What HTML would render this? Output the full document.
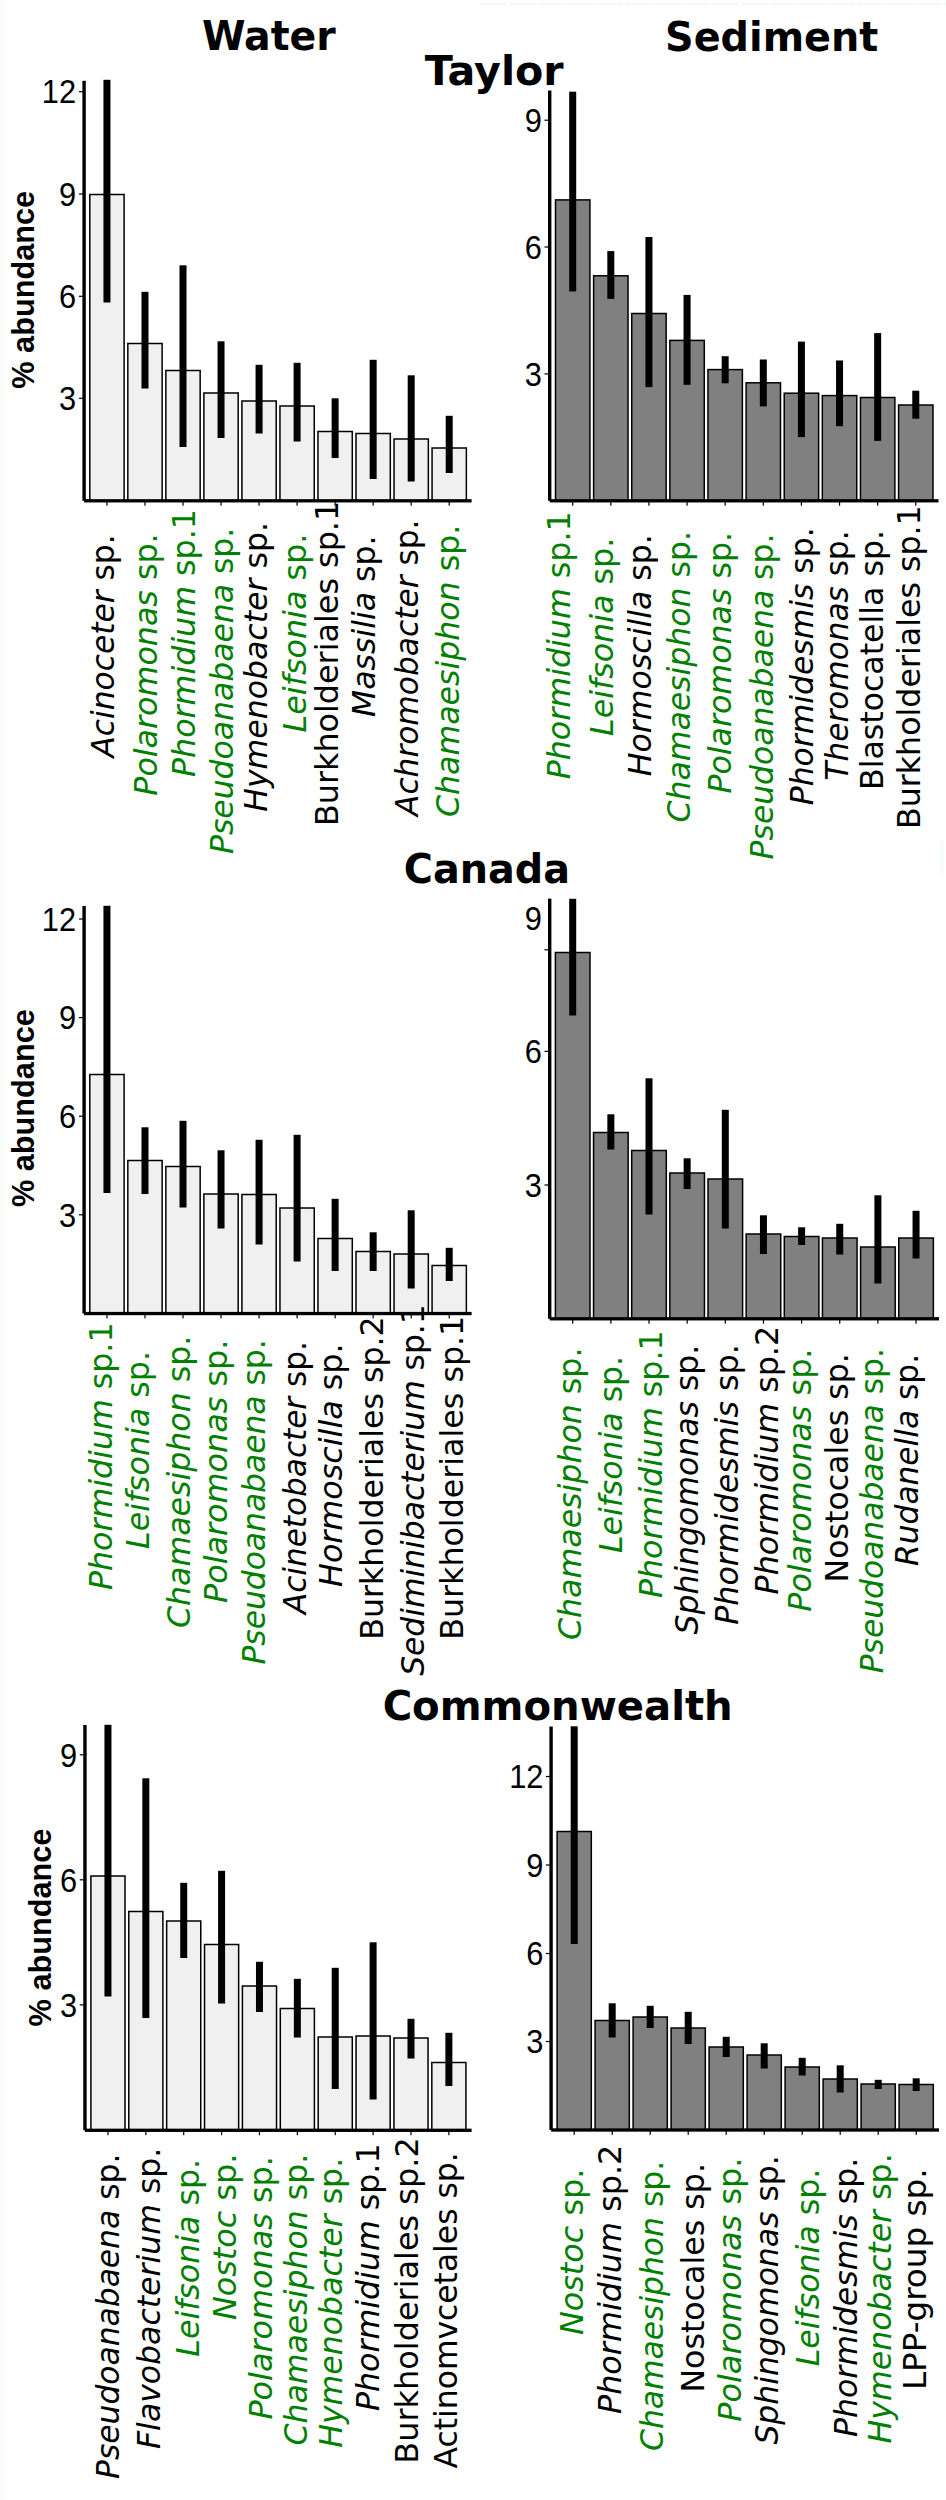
<!DOCTYPE html>
<html lang="en">
<head>
<meta charset="utf-8">
<title>Abundance of bacterial taxa in water and sediment</title>
<style>
html,body{margin:0;padding:0;background:#fff;}
svg{display:block;}
.t{font-family:"DejaVu Sans","Liberation Sans",sans-serif;font-weight:bold;font-size:41.2px;fill:#000;}
.l{font-family:"DejaVu Sans","Liberation Sans",sans-serif;font-size:31.5px;}
.l .i{font-style:italic;}
.n{font-family:"Liberation Sans",Arial,sans-serif;font-size:30.8px;fill:#000;text-anchor:end;}
.y{font-family:"Liberation Sans",Arial,sans-serif;font-weight:bold;font-size:30.7px;fill:#000;text-anchor:middle;}
.b{stroke:#000;stroke-width:1.5;}
.e{fill:#000;}
</style>
</head>
<body>
<svg width="946" height="2500" viewBox="0 0 946 2500">
<rect width="946" height="2500" fill="#fff"/>
<rect x="1.5" y="0" width="1.6" height="2500" fill="#f7fcf7"/>
<line x1="480" y1="4" x2="946" y2="4" stroke="#f4fbf5" stroke-width="3" stroke-dasharray="27 2"/>
<rect x="940.3" y="840" width="3" height="34" fill="#f2fdf2"/>
<text class="t" x="201.94" y="50.4" textLength="133.87" lengthAdjust="spacingAndGlyphs">Water</text>
<text class="t" x="665.01" y="50.5" textLength="213.32" lengthAdjust="spacingAndGlyphs">Sediment</text>
<text class="t" x="424.8" y="84.7" textLength="138.89" lengthAdjust="spacingAndGlyphs">Taylor</text>
<text class="t" x="403.87" y="883" textLength="166.12" lengthAdjust="spacingAndGlyphs">Canada</text>
<text class="t" x="382.65" y="1720.1" textLength="350.07" lengthAdjust="spacingAndGlyphs">Commonwealth</text>
<g>
<rect class="b" x="89.8" y="194.5" width="34.3" height="306.3" fill="#f0f0f0"/>
<rect class="b" x="127.83" y="343.5" width="34.3" height="157.3" fill="#f0f0f0"/>
<rect class="b" x="165.86" y="370.5" width="34.3" height="130.3" fill="#f0f0f0"/>
<rect class="b" x="203.89" y="393" width="34.3" height="107.8" fill="#f0f0f0"/>
<rect class="b" x="241.92" y="401" width="34.3" height="99.8" fill="#f0f0f0"/>
<rect class="b" x="279.95" y="406" width="34.3" height="94.8" fill="#f0f0f0"/>
<rect class="b" x="317.98" y="431.5" width="34.3" height="69.3" fill="#f0f0f0"/>
<rect class="b" x="356.01" y="433.5" width="34.3" height="67.3" fill="#f0f0f0"/>
<rect class="b" x="394.04" y="439" width="34.3" height="61.8" fill="#f0f0f0"/>
<rect class="b" x="432.07" y="448" width="34.3" height="52.8" fill="#f0f0f0"/>
<rect class="e" x="103.45" y="79.8" width="7" height="222.7"/>
<rect class="e" x="141.48" y="291.8" width="7" height="96.7"/>
<rect class="e" x="179.51" y="265.3" width="7" height="181.7"/>
<rect class="e" x="217.54" y="341.3" width="7" height="96.7"/>
<rect class="e" x="255.57" y="364.8" width="7" height="68.7"/>
<rect class="e" x="293.6" y="362.8" width="7" height="78.7"/>
<rect class="e" x="331.63" y="398.3" width="7" height="59.7"/>
<rect class="e" x="369.66" y="359.8" width="7" height="119.2"/>
<rect class="e" x="407.69" y="375.3" width="7" height="106.2"/>
<rect class="e" x="445.72" y="415.8" width="7" height="57.2"/>
<rect x="106.35" y="500.8" width="1.2" height="4.9" fill="#000"/>
<rect x="144.38" y="500.8" width="1.2" height="4.9" fill="#000"/>
<rect x="182.41" y="500.8" width="1.2" height="4.9" fill="#000"/>
<rect x="220.44" y="500.8" width="1.2" height="4.9" fill="#000"/>
<rect x="258.47" y="500.8" width="1.2" height="4.9" fill="#000"/>
<rect x="296.5" y="500.8" width="1.2" height="4.9" fill="#000"/>
<rect x="334.53" y="500.8" width="1.2" height="4.9" fill="#000"/>
<rect x="372.56" y="500.8" width="1.2" height="4.9" fill="#000"/>
<rect x="410.59" y="500.8" width="1.2" height="4.9" fill="#000"/>
<rect x="448.62" y="500.8" width="1.2" height="4.9" fill="#000"/>
<rect x="82.4" y="80.8" width="3.4" height="420" fill="#000"/>
<rect x="84.1" y="499.15" width="387.5" height="3.3" fill="#000"/>
<rect x="78.9" y="91.1" width="4" height="1.2" fill="#000"/>
<text class="n" transform="translate(76.1 103.48) scale(1 1.09)">12</text>
<rect x="78.9" y="193.4" width="4" height="1.2" fill="#000"/>
<text class="n" transform="translate(76.1 205.78) scale(1 1.09)">9</text>
<rect x="78.9" y="295.7" width="4" height="1.2" fill="#000"/>
<text class="n" transform="translate(76.1 308.08) scale(1 1.09)">6</text>
<rect x="78.9" y="397.7" width="4" height="1.2" fill="#000"/>
<text class="n" transform="translate(76.1 410.08) scale(1 1.09)">3</text>
<text class="y" transform="translate(34.2 289.8) rotate(-90)">% abundance</text>
<text class="l" fill="#000" transform="translate(113.8 757.61) rotate(-90)" textLength="223.28" lengthAdjust="spacingAndGlyphs"><tspan class="i">Acinoceter</tspan> sp.</text>
<text class="l" fill="#007f00" transform="translate(156.5 795.71) rotate(-90)" textLength="262.36" lengthAdjust="spacingAndGlyphs"><tspan class="i">Polaromonas</tspan> sp.</text>
<text class="l" fill="#007f00" transform="translate(195.2 777.01) rotate(-90)" textLength="267.92" lengthAdjust="spacingAndGlyphs"><tspan class="i">Phormidium</tspan> sp.1</text>
<text class="l" fill="#007f00" transform="translate(232.6 854) rotate(-90)" textLength="326.28" lengthAdjust="spacingAndGlyphs"><tspan class="i">Pseudoanabaena</tspan> sp.</text>
<text class="l" fill="#000" transform="translate(267.1 811.8) rotate(-90)" textLength="289.78" lengthAdjust="spacingAndGlyphs"><tspan class="i">Hymenobacter</tspan> sp.</text>
<text class="l" fill="#007f00" transform="translate(305.5 732.41) rotate(-90)" textLength="198.76" lengthAdjust="spacingAndGlyphs"><tspan class="i">Leifsonia</tspan> sp.</text>
<text class="l" fill="#000" transform="translate(337.7 826.03) rotate(-90)" textLength="325.21" lengthAdjust="spacingAndGlyphs">Burkholderiales sp.1</text>
<text class="l" fill="#000" transform="translate(375.4 717) rotate(-90)" textLength="181.52" lengthAdjust="spacingAndGlyphs"><tspan class="i">Massilia</tspan> sp.</text>
<text class="l" fill="#000" transform="translate(417.6 816.01) rotate(-90)" textLength="296.54" lengthAdjust="spacingAndGlyphs"><tspan class="i">Achromobacter</tspan> sp.</text>
<text class="l" fill="#007f00" transform="translate(459.3 817) rotate(-90)" textLength="292.25" lengthAdjust="spacingAndGlyphs"><tspan class="i">Chamaesiphon</tspan> sp.</text>
</g>
<g>
<rect class="b" x="555.5" y="199.9" width="34.4" height="300.9" fill="#808080"/>
<rect class="b" x="593.62" y="275.8" width="34.4" height="225" fill="#808080"/>
<rect class="b" x="631.74" y="313.5" width="34.4" height="187.3" fill="#808080"/>
<rect class="b" x="669.86" y="340.4" width="34.4" height="160.4" fill="#808080"/>
<rect class="b" x="707.98" y="369.6" width="34.4" height="131.2" fill="#808080"/>
<rect class="b" x="746.1" y="382.8" width="34.4" height="118" fill="#808080"/>
<rect class="b" x="784.22" y="393.2" width="34.4" height="107.6" fill="#808080"/>
<rect class="b" x="822.34" y="395.6" width="34.4" height="105.2" fill="#808080"/>
<rect class="b" x="860.46" y="397.5" width="34.4" height="103.3" fill="#808080"/>
<rect class="b" x="898.58" y="405" width="34.4" height="95.8" fill="#808080"/>
<rect class="e" x="569.2" y="91.7" width="7" height="199.7"/>
<rect class="e" x="607.32" y="251.1" width="7" height="47.8"/>
<rect class="e" x="645.44" y="237" width="7" height="150.1"/>
<rect class="e" x="683.56" y="294.9" width="7" height="89.9"/>
<rect class="e" x="721.68" y="356.2" width="7" height="27.1"/>
<rect class="e" x="759.8" y="359.5" width="7" height="46.9"/>
<rect class="e" x="797.92" y="341.6" width="7" height="95.5"/>
<rect class="e" x="836.04" y="360.5" width="7" height="65.7"/>
<rect class="e" x="874.16" y="333.1" width="7" height="107.8"/>
<rect class="e" x="912.28" y="390.7" width="7" height="28"/>
<rect x="572.1" y="500.8" width="1.2" height="4.9" fill="#000"/>
<rect x="610.22" y="500.8" width="1.2" height="4.9" fill="#000"/>
<rect x="648.34" y="500.8" width="1.2" height="4.9" fill="#000"/>
<rect x="686.46" y="500.8" width="1.2" height="4.9" fill="#000"/>
<rect x="724.58" y="500.8" width="1.2" height="4.9" fill="#000"/>
<rect x="762.7" y="500.8" width="1.2" height="4.9" fill="#000"/>
<rect x="800.82" y="500.8" width="1.2" height="4.9" fill="#000"/>
<rect x="838.94" y="500.8" width="1.2" height="4.9" fill="#000"/>
<rect x="877.06" y="500.8" width="1.2" height="4.9" fill="#000"/>
<rect x="915.18" y="500.8" width="1.2" height="4.9" fill="#000"/>
<rect x="548" y="90.5" width="3.4" height="410.3" fill="#000"/>
<rect x="549.7" y="499.15" width="388.8" height="3.3" fill="#000"/>
<rect x="544.5" y="119.6" width="4" height="1.2" fill="#000"/>
<text class="n" transform="translate(541.9 131.98) scale(1 1.09)">9</text>
<rect x="544.5" y="246.4" width="4" height="1.2" fill="#000"/>
<text class="n" transform="translate(541.9 258.78) scale(1 1.09)">6</text>
<rect x="544.5" y="373.3" width="4" height="1.2" fill="#000"/>
<text class="n" transform="translate(541.9 385.68) scale(1 1.09)">3</text>
<text class="l" fill="#007f00" transform="translate(569.5 779.31) rotate(-90)" textLength="268.02" lengthAdjust="spacingAndGlyphs"><tspan class="i">Phormidium</tspan> sp.1</text>
<text class="l" fill="#007f00" transform="translate(613.3 736.01) rotate(-90)" textLength="198.35" lengthAdjust="spacingAndGlyphs"><tspan class="i">Leifsonia</tspan> sp.</text>
<text class="l" fill="#000" transform="translate(651 776.2) rotate(-90)" textLength="242.1" lengthAdjust="spacingAndGlyphs"><tspan class="i">Hormoscilla</tspan> sp.</text>
<text class="l" fill="#007f00" transform="translate(689.8 822.6) rotate(-90)" textLength="291.64" lengthAdjust="spacingAndGlyphs"><tspan class="i">Chamaesiphon</tspan> sp.</text>
<text class="l" fill="#007f00" transform="translate(730.9 793.6) rotate(-90)" textLength="261.74" lengthAdjust="spacingAndGlyphs"><tspan class="i">Polaromonas</tspan> sp.</text>
<text class="l" fill="#007f00" transform="translate(773.3 859.4) rotate(-90)" textLength="325.77" lengthAdjust="spacingAndGlyphs"><tspan class="i">Pseudoanabaena</tspan> sp.</text>
<text class="l" fill="#000" transform="translate(812.6 805.3) rotate(-90)" textLength="277.99" lengthAdjust="spacingAndGlyphs"><tspan class="i">Phormidesmis</tspan> sp.</text>
<text class="l" fill="#000" transform="translate(847.7 780.49) rotate(-90)" textLength="250.05" lengthAdjust="spacingAndGlyphs"><tspan class="i">Theromonas</tspan> sp.</text>
<text class="l" fill="#000" transform="translate(883 790.01) rotate(-90)" textLength="260.01" lengthAdjust="spacingAndGlyphs">Blastocatella sp.</text>
<text class="l" fill="#000" transform="translate(919.8 829.02) rotate(-90)" textLength="323.79" lengthAdjust="spacingAndGlyphs">Burkholderiales sp.1</text>
</g>
<g>
<rect class="b" x="89.8" y="1074.5" width="34.3" height="239.05" fill="#f0f0f0"/>
<rect class="b" x="127.83" y="1160.5" width="34.3" height="153.05" fill="#f0f0f0"/>
<rect class="b" x="165.86" y="1166.5" width="34.3" height="147.05" fill="#f0f0f0"/>
<rect class="b" x="203.89" y="1194" width="34.3" height="119.55" fill="#f0f0f0"/>
<rect class="b" x="241.92" y="1194.5" width="34.3" height="119.05" fill="#f0f0f0"/>
<rect class="b" x="279.95" y="1208" width="34.3" height="105.55" fill="#f0f0f0"/>
<rect class="b" x="317.98" y="1238.5" width="34.3" height="75.05" fill="#f0f0f0"/>
<rect class="b" x="356.01" y="1251.5" width="34.3" height="62.05" fill="#f0f0f0"/>
<rect class="b" x="394.04" y="1254" width="34.3" height="59.55" fill="#f0f0f0"/>
<rect class="b" x="432.07" y="1265.5" width="34.3" height="48.05" fill="#f0f0f0"/>
<rect class="e" x="103.45" y="905.8" width="7" height="287.2"/>
<rect class="e" x="141.48" y="1127.3" width="7" height="66.7"/>
<rect class="e" x="179.51" y="1120.8" width="7" height="86.7"/>
<rect class="e" x="217.54" y="1150.3" width="7" height="78.2"/>
<rect class="e" x="255.57" y="1139.8" width="7" height="104.7"/>
<rect class="e" x="293.6" y="1134.8" width="7" height="126.7"/>
<rect class="e" x="331.63" y="1198.8" width="7" height="72.2"/>
<rect class="e" x="369.66" y="1232.3" width="7" height="38.7"/>
<rect class="e" x="407.69" y="1210.3" width="7" height="78.2"/>
<rect class="e" x="445.72" y="1247.8" width="7" height="33.2"/>
<rect x="106.35" y="1313.55" width="1.2" height="4.9" fill="#000"/>
<rect x="144.38" y="1313.55" width="1.2" height="4.9" fill="#000"/>
<rect x="182.41" y="1313.55" width="1.2" height="4.9" fill="#000"/>
<rect x="220.44" y="1313.55" width="1.2" height="4.9" fill="#000"/>
<rect x="258.47" y="1313.55" width="1.2" height="4.9" fill="#000"/>
<rect x="296.5" y="1313.55" width="1.2" height="4.9" fill="#000"/>
<rect x="334.53" y="1313.55" width="1.2" height="4.9" fill="#000"/>
<rect x="372.56" y="1313.55" width="1.2" height="4.9" fill="#000"/>
<rect x="410.59" y="1313.55" width="1.2" height="4.9" fill="#000"/>
<rect x="448.62" y="1313.55" width="1.2" height="4.9" fill="#000"/>
<rect x="82.4" y="906" width="3.4" height="407.55" fill="#000"/>
<rect x="84.1" y="1311.9" width="387.5" height="3.3" fill="#000"/>
<rect x="78.9" y="918.4" width="4" height="1.2" fill="#000"/>
<text class="n" transform="translate(76.1 930.78) scale(1 1.09)">12</text>
<rect x="78.9" y="1017" width="4" height="1.2" fill="#000"/>
<text class="n" transform="translate(76.1 1029.38) scale(1 1.09)">9</text>
<rect x="78.9" y="1115.6" width="4" height="1.2" fill="#000"/>
<text class="n" transform="translate(76.1 1127.98) scale(1 1.09)">6</text>
<rect x="78.9" y="1214.2" width="4" height="1.2" fill="#000"/>
<text class="n" transform="translate(76.1 1226.58) scale(1 1.09)">3</text>
<text class="y" transform="translate(34.2 1108.1) rotate(-90)">% abundance</text>
<text class="l" fill="#007f00" transform="translate(112 1590) rotate(-90)" textLength="267.51" lengthAdjust="spacingAndGlyphs"><tspan class="i">Phormidium</tspan> sp.1</text>
<text class="l" fill="#007f00" transform="translate(148.7 1549.01) rotate(-90)" textLength="198.04" lengthAdjust="spacingAndGlyphs"><tspan class="i">Leifsonia</tspan> sp.</text>
<text class="l" fill="#007f00" transform="translate(189.9 1628) rotate(-90)" textLength="292.35" lengthAdjust="spacingAndGlyphs"><tspan class="i">Chamaesiphon</tspan> sp.</text>
<text class="l" fill="#007f00" transform="translate(226.9 1603.01) rotate(-90)" textLength="263.37" lengthAdjust="spacingAndGlyphs"><tspan class="i">Polaromonas</tspan> sp.</text>
<text class="l" fill="#007f00" transform="translate(265.4 1664.59) rotate(-90)" textLength="325.26" lengthAdjust="spacingAndGlyphs"><tspan class="i">Pseudoanabaena</tspan> sp.</text>
<text class="l" fill="#000" transform="translate(305.5 1614.02) rotate(-90)" textLength="272.91" lengthAdjust="spacingAndGlyphs"><tspan class="i">Acinetobacter</tspan> sp.</text>
<text class="l" fill="#000" transform="translate(342.1 1587.01) rotate(-90)" textLength="243.63" lengthAdjust="spacingAndGlyphs"><tspan class="i">Hormoscilla</tspan> sp.</text>
<text class="l" fill="#000" transform="translate(383.2 1639.81) rotate(-90)" textLength="323.48" lengthAdjust="spacingAndGlyphs">Burkholderiales sp.2</text>
<text class="l" fill="#000" transform="translate(423.5 1675.8) rotate(-90)" textLength="371.56" lengthAdjust="spacingAndGlyphs"><tspan class="i">Sediminibacterium</tspan> sp.1</text>
<text class="l" fill="#000" transform="translate(462.7 1639.82) rotate(-90)" textLength="324.09" lengthAdjust="spacingAndGlyphs">Burkholderiales sp.1</text>
</g>
<g>
<rect class="b" x="555.4" y="952.5" width="34.6" height="366.3" fill="#808080"/>
<rect class="b" x="593.55" y="1132.5" width="34.6" height="186.3" fill="#808080"/>
<rect class="b" x="631.7" y="1150.5" width="34.6" height="168.3" fill="#808080"/>
<rect class="b" x="669.85" y="1173" width="34.6" height="145.8" fill="#808080"/>
<rect class="b" x="708" y="1179" width="34.6" height="139.8" fill="#808080"/>
<rect class="b" x="746.15" y="1234" width="34.6" height="84.8" fill="#808080"/>
<rect class="b" x="784.3" y="1236.5" width="34.6" height="82.3" fill="#808080"/>
<rect class="b" x="822.45" y="1238" width="34.6" height="80.8" fill="#808080"/>
<rect class="b" x="860.6" y="1247" width="34.6" height="71.8" fill="#808080"/>
<rect class="b" x="898.75" y="1238" width="34.6" height="80.8" fill="#808080"/>
<rect class="e" x="569.2" y="898.8" width="7" height="116.7"/>
<rect class="e" x="607.35" y="1114.3" width="7" height="35.2"/>
<rect class="e" x="645.5" y="1078.3" width="7" height="136.2"/>
<rect class="e" x="683.65" y="1158.3" width="7" height="30.7"/>
<rect class="e" x="721.8" y="1109.8" width="7" height="118.7"/>
<rect class="e" x="759.95" y="1215.3" width="7" height="38.7"/>
<rect class="e" x="798.1" y="1227.3" width="7" height="17.7"/>
<rect class="e" x="836.25" y="1223.8" width="7" height="30.7"/>
<rect class="e" x="874.4" y="1195.3" width="7" height="88.2"/>
<rect class="e" x="912.55" y="1210.8" width="7" height="47.7"/>
<rect x="572.1" y="1318.8" width="1.2" height="4.9" fill="#000"/>
<rect x="610.25" y="1318.8" width="1.2" height="4.9" fill="#000"/>
<rect x="648.4" y="1318.8" width="1.2" height="4.9" fill="#000"/>
<rect x="686.55" y="1318.8" width="1.2" height="4.9" fill="#000"/>
<rect x="724.7" y="1318.8" width="1.2" height="4.9" fill="#000"/>
<rect x="762.85" y="1318.8" width="1.2" height="4.9" fill="#000"/>
<rect x="801" y="1318.8" width="1.2" height="4.9" fill="#000"/>
<rect x="839.15" y="1318.8" width="1.2" height="4.9" fill="#000"/>
<rect x="877.3" y="1318.8" width="1.2" height="4.9" fill="#000"/>
<rect x="915.45" y="1318.8" width="1.2" height="4.9" fill="#000"/>
<rect x="548" y="898.6" width="3.4" height="420.2" fill="#000"/>
<rect x="549.7" y="1317.15" width="389.3" height="3.3" fill="#000"/>
<text class="n" transform="translate(541.9 929.78) scale(1 1.09)">9</text>
<rect x="544.5" y="949.2" width="4" height="1.2" fill="#000"/>
<rect x="544.5" y="1050.8" width="4" height="1.2" fill="#000"/>
<text class="n" transform="translate(541.9 1063.18) scale(1 1.09)">6</text>
<rect x="544.5" y="1184.4" width="4" height="1.2" fill="#000"/>
<text class="n" transform="translate(541.9 1196.78) scale(1 1.09)">3</text>
<text class="l" fill="#007f00" transform="translate(580.6 1640) rotate(-90)" textLength="292.45" lengthAdjust="spacingAndGlyphs"><tspan class="i">Chamaesiphon</tspan> sp.</text>
<text class="l" fill="#007f00" transform="translate(622.1 1553) rotate(-90)" textLength="197.13" lengthAdjust="spacingAndGlyphs"><tspan class="i">Leifsonia</tspan> sp.</text>
<text class="l" fill="#007f00" transform="translate(661.6 1598) rotate(-90)" textLength="267.61" lengthAdjust="spacingAndGlyphs"><tspan class="i">Phormidium</tspan> sp.1</text>
<text class="l" fill="#000" transform="translate(697.6 1634.6) rotate(-90)" textLength="289.91" lengthAdjust="spacingAndGlyphs"><tspan class="i">Sphingomonas</tspan> sp.</text>
<text class="l" fill="#000" transform="translate(737.6 1624.81) rotate(-90)" textLength="280.53" lengthAdjust="spacingAndGlyphs"><tspan class="i">Phormidesmis</tspan> sp.</text>
<text class="l" fill="#000" transform="translate(777.7 1594.41) rotate(-90)" textLength="268.53" lengthAdjust="spacingAndGlyphs"><tspan class="i">Phormidium</tspan> sp.2</text>
<text class="l" fill="#007f00" transform="translate(810.8 1611.81) rotate(-90)" textLength="263.27" lengthAdjust="spacingAndGlyphs"><tspan class="i">Polaromonas</tspan> sp.</text>
<text class="l" fill="#000" transform="translate(848.1 1582.51) rotate(-90)" textLength="229.39" lengthAdjust="spacingAndGlyphs">Nostocales sp.</text>
<text class="l" fill="#007f00" transform="translate(883.2 1673.29) rotate(-90)" textLength="325.26" lengthAdjust="spacingAndGlyphs"><tspan class="i">Pseudoanabaena</tspan> sp.</text>
<text class="l" fill="#000" transform="translate(918 1565.99) rotate(-90)" textLength="212.12" lengthAdjust="spacingAndGlyphs"><tspan class="i">Rudanella</tspan> sp.</text>
</g>
<g>
<rect class="b" x="90.9" y="1876" width="34.1" height="254.3" fill="#f0f0f0"/>
<rect class="b" x="128.78" y="1911.5" width="34.1" height="218.8" fill="#f0f0f0"/>
<rect class="b" x="166.66" y="1921" width="34.1" height="209.3" fill="#f0f0f0"/>
<rect class="b" x="204.54" y="1944.5" width="34.1" height="185.8" fill="#f0f0f0"/>
<rect class="b" x="242.42" y="1986" width="34.1" height="144.3" fill="#f0f0f0"/>
<rect class="b" x="280.3" y="2008.5" width="34.1" height="121.8" fill="#f0f0f0"/>
<rect class="b" x="318.18" y="2037" width="34.1" height="93.3" fill="#f0f0f0"/>
<rect class="b" x="356.06" y="2036" width="34.1" height="94.3" fill="#f0f0f0"/>
<rect class="b" x="393.94" y="2038" width="34.1" height="92.3" fill="#f0f0f0"/>
<rect class="b" x="431.82" y="2062.5" width="34.1" height="67.8" fill="#f0f0f0"/>
<rect class="e" x="104.45" y="1724.8" width="7" height="271.7"/>
<rect class="e" x="142.33" y="1778.3" width="7" height="239.7"/>
<rect class="e" x="180.21" y="1882.8" width="7" height="75.2"/>
<rect class="e" x="218.09" y="1870.8" width="7" height="132.7"/>
<rect class="e" x="255.97" y="1961.8" width="7" height="50.2"/>
<rect class="e" x="293.85" y="1978.8" width="7" height="58.7"/>
<rect class="e" x="331.73" y="1967.8" width="7" height="121.2"/>
<rect class="e" x="369.61" y="1942.3" width="7" height="157.2"/>
<rect class="e" x="407.49" y="2018.8" width="7" height="39.7"/>
<rect class="e" x="445.37" y="2032.8" width="7" height="53.2"/>
<rect x="107.35" y="2130.3" width="1.2" height="4.9" fill="#000"/>
<rect x="145.23" y="2130.3" width="1.2" height="4.9" fill="#000"/>
<rect x="183.11" y="2130.3" width="1.2" height="4.9" fill="#000"/>
<rect x="220.99" y="2130.3" width="1.2" height="4.9" fill="#000"/>
<rect x="258.87" y="2130.3" width="1.2" height="4.9" fill="#000"/>
<rect x="296.75" y="2130.3" width="1.2" height="4.9" fill="#000"/>
<rect x="334.63" y="2130.3" width="1.2" height="4.9" fill="#000"/>
<rect x="372.51" y="2130.3" width="1.2" height="4.9" fill="#000"/>
<rect x="410.39" y="2130.3" width="1.2" height="4.9" fill="#000"/>
<rect x="448.27" y="2130.3" width="1.2" height="4.9" fill="#000"/>
<rect x="83.25" y="1725" width="3.4" height="405.3" fill="#000"/>
<rect x="84.95" y="2128.65" width="386.65" height="3.3" fill="#000"/>
<rect x="79.75" y="1754.2" width="4" height="1.2" fill="#000"/>
<text class="n" transform="translate(77.2 1766.58) scale(1 1.09)">9</text>
<rect x="79.75" y="1879.2" width="4" height="1.2" fill="#000"/>
<text class="n" transform="translate(77.2 1891.58) scale(1 1.09)">6</text>
<rect x="79.75" y="2004.3" width="4" height="1.2" fill="#000"/>
<text class="n" transform="translate(77.2 2016.68) scale(1 1.09)">3</text>
<text class="y" transform="translate(51 1927.5) rotate(-90)">% abundance</text>
<text class="l" fill="#000" transform="translate(118.7 2479) rotate(-90)" textLength="325.36" lengthAdjust="spacingAndGlyphs"><tspan class="i">Pseudoanabaena</tspan> sp.</text>
<text class="l" fill="#000" transform="translate(159.9 2449) rotate(-90)" textLength="301.34" lengthAdjust="spacingAndGlyphs"><tspan class="i">Flavobacterium</tspan> sp.</text>
<text class="l" fill="#007f00" transform="translate(198.8 2356.7) rotate(-90)" textLength="197.74" lengthAdjust="spacingAndGlyphs"><tspan class="i">Leifsonia</tspan> sp.</text>
<text class="l" fill="#007f00" transform="translate(236 2320.01) rotate(-90)" textLength="166.39" lengthAdjust="spacingAndGlyphs"><tspan class="i">Nostoc</tspan> sp.</text>
<text class="l" fill="#007f00" transform="translate(272 2419.61) rotate(-90)" textLength="263.48" lengthAdjust="spacingAndGlyphs"><tspan class="i">Polaromonas</tspan> sp.</text>
<text class="l" fill="#007f00" transform="translate(307.1 2445.6) rotate(-90)" textLength="291.84" lengthAdjust="spacingAndGlyphs"><tspan class="i">Chamaesiphon</tspan> sp.</text>
<text class="l" fill="#007f00" transform="translate(341.5 2447.8) rotate(-90)" textLength="289.98" lengthAdjust="spacingAndGlyphs"><tspan class="i">Hymenobacter</tspan> sp.</text>
<text class="l" fill="#000" transform="translate(378.8 2411) rotate(-90)" textLength="267.51" lengthAdjust="spacingAndGlyphs"><tspan class="i">Phormidium</tspan> sp.1</text>
<text class="l" fill="#000" transform="translate(417.6 2463.64) rotate(-90)" textLength="326.34" lengthAdjust="spacingAndGlyphs">Burkholderiales sp.2</text>
<text class="l" fill="#000" transform="translate(456.5 2468.4) rotate(-90)" textLength="316.1" lengthAdjust="spacingAndGlyphs">Actinomvcetales sp.</text>
</g>
<g>
<rect class="b" x="557.1" y="1831.5" width="34.2" height="298.5" fill="#808080"/>
<rect class="b" x="595.1" y="2020.5" width="34.2" height="109.5" fill="#808080"/>
<rect class="b" x="633.1" y="2017" width="34.2" height="113" fill="#808080"/>
<rect class="b" x="671.1" y="2028" width="34.2" height="102" fill="#808080"/>
<rect class="b" x="709.1" y="2047" width="34.2" height="83" fill="#808080"/>
<rect class="b" x="747.1" y="2055" width="34.2" height="75" fill="#808080"/>
<rect class="b" x="785.1" y="2067" width="34.2" height="63" fill="#808080"/>
<rect class="b" x="823.1" y="2079" width="34.2" height="51" fill="#808080"/>
<rect class="b" x="861.1" y="2084" width="34.2" height="46" fill="#808080"/>
<rect class="b" x="899.1" y="2084.5" width="34.2" height="45.5" fill="#808080"/>
<rect class="e" x="570.7" y="1726.3" width="7" height="217.7"/>
<rect class="e" x="608.7" y="2003.3" width="7" height="34.2"/>
<rect class="e" x="646.7" y="2005.8" width="7" height="22.2"/>
<rect class="e" x="684.7" y="2011.8" width="7" height="32.2"/>
<rect class="e" x="722.7" y="2036.8" width="7" height="20.2"/>
<rect class="e" x="760.7" y="2043.3" width="7" height="25.2"/>
<rect class="e" x="798.7" y="2057.8" width="7" height="17.7"/>
<rect class="e" x="836.7" y="2065.3" width="7" height="27.2"/>
<rect class="e" x="874.7" y="2079.8" width="7" height="9.2"/>
<rect class="e" x="912.7" y="2078.3" width="7" height="12.7"/>
<rect x="573.6" y="2130" width="1.2" height="4.9" fill="#000"/>
<rect x="611.6" y="2130" width="1.2" height="4.9" fill="#000"/>
<rect x="649.6" y="2130" width="1.2" height="4.9" fill="#000"/>
<rect x="687.6" y="2130" width="1.2" height="4.9" fill="#000"/>
<rect x="725.6" y="2130" width="1.2" height="4.9" fill="#000"/>
<rect x="763.6" y="2130" width="1.2" height="4.9" fill="#000"/>
<rect x="801.6" y="2130" width="1.2" height="4.9" fill="#000"/>
<rect x="839.6" y="2130" width="1.2" height="4.9" fill="#000"/>
<rect x="877.6" y="2130" width="1.2" height="4.9" fill="#000"/>
<rect x="915.6" y="2130" width="1.2" height="4.9" fill="#000"/>
<rect x="549.4" y="1726.5" width="3.4" height="403.5" fill="#000"/>
<rect x="551.1" y="2128.35" width="387.9" height="3.3" fill="#000"/>
<rect x="545.9" y="1775.9" width="4" height="1.2" fill="#000"/>
<text class="n" transform="translate(543.4 1788.28) scale(1 1.09)">12</text>
<rect x="545.9" y="1864.4" width="4" height="1.2" fill="#000"/>
<text class="n" transform="translate(543.4 1876.78) scale(1 1.09)">9</text>
<rect x="545.9" y="1952.9" width="4" height="1.2" fill="#000"/>
<text class="n" transform="translate(543.4 1965.28) scale(1 1.09)">6</text>
<rect x="545.9" y="2040.9" width="4" height="1.2" fill="#000"/>
<text class="n" transform="translate(543.4 2053.28) scale(1 1.09)">3</text>
<text class="l" fill="#007f00" transform="translate(583.3 2335.01) rotate(-90)" textLength="166.39" lengthAdjust="spacingAndGlyphs"><tspan class="i">Nostoc</tspan> sp.</text>
<text class="l" fill="#000" transform="translate(621 2414.01) rotate(-90)" textLength="269.34" lengthAdjust="spacingAndGlyphs"><tspan class="i">Phormidium</tspan> sp.2</text>
<text class="l" fill="#007f00" transform="translate(662.8 2451) rotate(-90)" textLength="290.12" lengthAdjust="spacingAndGlyphs"><tspan class="i">Chamaesiphon</tspan> sp.</text>
<text class="l" fill="#000" transform="translate(703.6 2392.61) rotate(-90)" textLength="229.6" lengthAdjust="spacingAndGlyphs">Nostocales sp.</text>
<text class="l" fill="#007f00" transform="translate(740.9 2421.81) rotate(-90)" textLength="264.29" lengthAdjust="spacingAndGlyphs"><tspan class="i">Polaromonas</tspan> sp.</text>
<text class="l" fill="#000" transform="translate(777.5 2444.6) rotate(-90)" textLength="289.31" lengthAdjust="spacingAndGlyphs"><tspan class="i">Sphingomonas</tspan> sp.</text>
<text class="l" fill="#007f00" transform="translate(818.8 2366.3) rotate(-90)" textLength="197.64" lengthAdjust="spacingAndGlyphs"><tspan class="i">Leifsonia</tspan> sp.</text>
<text class="l" fill="#000" transform="translate(857 2437) rotate(-90)" textLength="279.21" lengthAdjust="spacingAndGlyphs"><tspan class="i">Phormidesmis</tspan> sp.</text>
<text class="l" fill="#007f00" transform="translate(890.9 2443.4) rotate(-90)" textLength="290.09" lengthAdjust="spacingAndGlyphs"><tspan class="i">Hymenobacter</tspan> sp.</text>
<text class="l" fill="#000" transform="translate(925.8 2390.11) rotate(-90)" textLength="221.76" lengthAdjust="spacingAndGlyphs">LPP-group sp.</text>
</g>
</svg>
</body>
</html>
